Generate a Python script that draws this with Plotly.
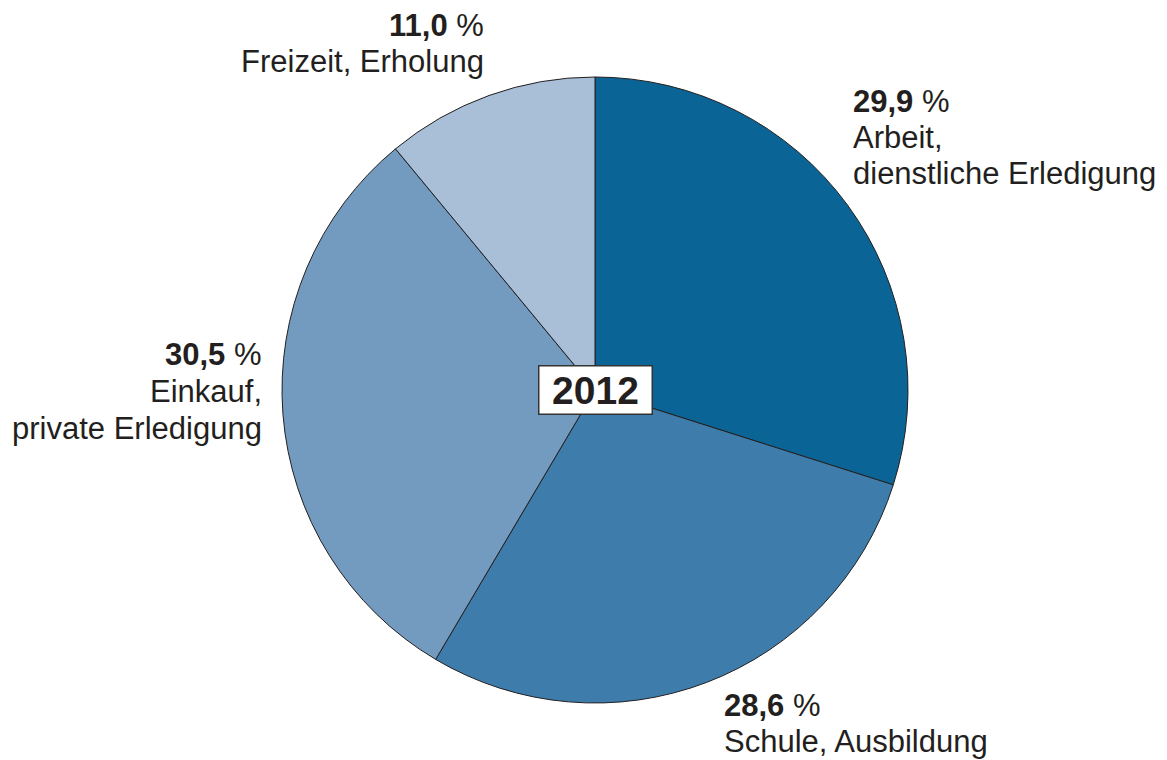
import plotly.graph_objects as go

# Anteile der Wegezwecke 2012 (in %), im Uhrzeigersinn ab 12 Uhr
zwecke = ["Arbeit, dienstliche Erledigung", "Schule, Ausbildung",
          "Einkauf, private Erledigung", "Freizeit, Erholung"]
anteile = [29.9, 28.6, 30.5, 11.0]
farben = ["#0b6496", "#3e7dab", "#739bc0", "#a9bfd7"]

# Beschriftungszeilen je Segment
label_zeilen = [
    ["Arbeit,", "dienstliche Erledigung"],
    ["Schule, Ausbildung"],
    ["Einkauf,", "private Erledigung"],
    ["Freizeit, Erholung"],
]
jahr = "2012"

W, H = 1167, 760
TEXT = "#231f20"
FONT = "Liberation Sans, Arial, sans-serif"

fig = go.Figure(go.Pie(
    labels=zwecke,
    values=anteile,
    sort=False,
    direction="clockwise",
    rotation=0,
    textinfo="none",
    hoverinfo="label+percent",
    marker=dict(colors=farben, line=dict(color=TEXT, width=1)),
    domain=dict(x=[282 / W, 908 / W], y=[57 / H, 683 / H]),
    showlegend=False,
))

def wert(v):
    return f"<b>{v:.1f}</b> %".replace(".", ",")

# Positionen der Beschriftungsblöcke (Pixel, y von oben), Ausrichtung
positionen = [
    (851, 101, "left"),
    (722, 705, "left"),
    (264, 355, "right"),
    (486, 25, "right"),
]
ZEILE = 36.5

annotations = []
for v, zeilen, (px, py, ausr) in zip(anteile, label_zeilen, positionen):
    texte = [wert(v)] + zeilen
    for i, t in enumerate(texte):
        annotations.append(dict(
            x=px / W, y=1 - (py + i * ZEILE) / H, xref="paper", yref="paper",
            text=t, showarrow=False, xanchor=ausr, yanchor="middle",
            font=dict(family=FONT, size=31, color=TEXT),
        ))

annotations.append(dict(
    x=595 / W, y=1 - 390 / H, xref="paper", yref="paper",
    text=f"<b>{jahr}</b>", showarrow=False, xanchor="center", yanchor="middle",
    font=dict(family=FONT, size=39, color=TEXT),
    bgcolor="white", bordercolor="#333333", borderwidth=1.5,
    width=110, height=45,
))

fig.update_layout(
    width=W, height=H,
    margin=dict(l=0, r=0, t=0, b=0),
    paper_bgcolor="white", plot_bgcolor="white",
    annotations=annotations,
)

fig.write_html("out.html")
